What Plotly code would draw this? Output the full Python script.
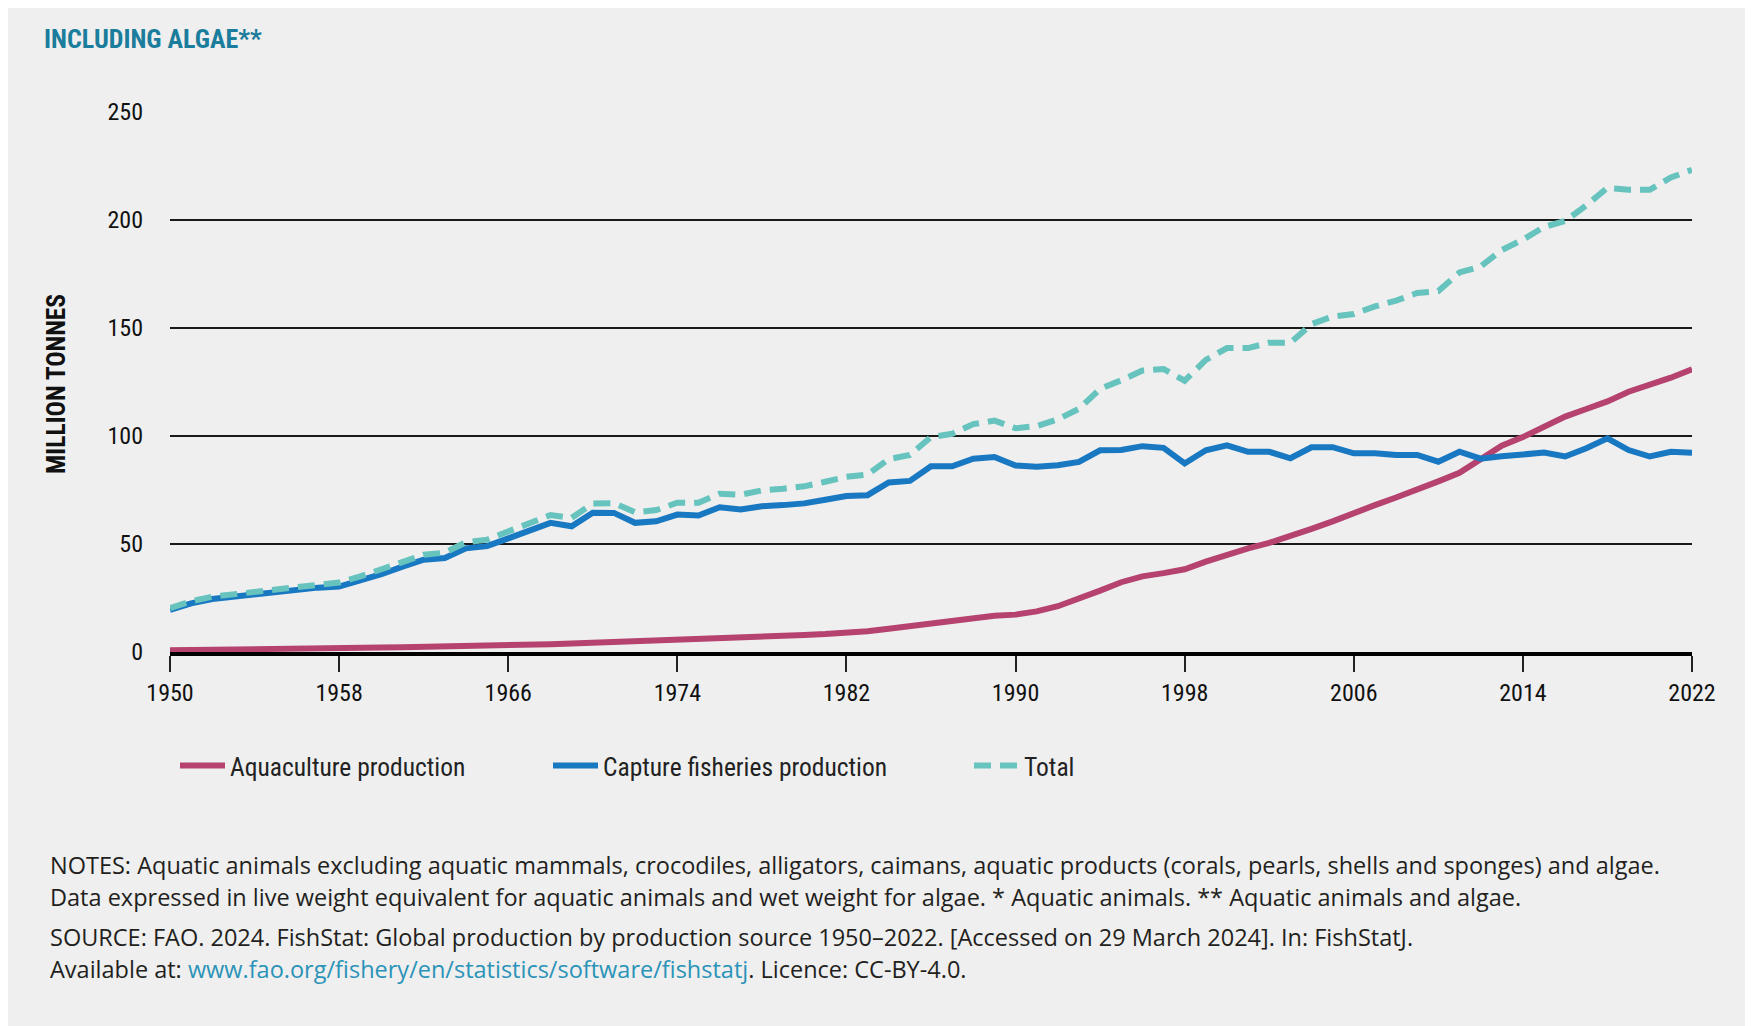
import plotly.graph_objects as go

years = list(range(1950, 2023))

aquaculture = [0.8, 1.0, 1.1, 1.2, 1.3, 1.4, 1.5, 1.7, 1.9, 2.0,
               2.1, 2.2, 2.3, 2.5, 2.8, 3.0, 3.2, 3.4, 3.6, 3.9,
               4.2, 4.5, 4.9, 5.2, 5.5, 5.9, 6.3, 6.8, 7.3, 7.6,
               7.9, 8.3, 8.9, 9.6, 10.8, 12.0, 13.5, 15.0, 16.0, 16.8,
               17.3, 18.8, 21.2, 24.6, 28.4, 32.3, 35.0, 36.5, 38.3, 41.8,
               45.0, 48.0, 50.5, 53.5, 57.0, 60.5, 64.5, 68.0, 71.5, 75.0,
               79.0, 83.0, 89.0, 95.5, 99.5, 104.5, 109.0, 112.5, 116.0, 120.5,
               123.5, 127.0, 130.9]

capture = [19.5, 22.5, 24.5, 25.5, 26.5, 27.5, 29.0, 29.8, 30.3, 33.0,
           36.0, 39.5, 42.7, 43.5, 48.0, 49.0, 52.5, 56.0, 59.8, 58.2,
           64.5, 64.4, 59.8, 60.5, 63.6, 63.2, 67.0, 66.0, 67.5, 68.0,
           68.8, 70.5, 72.2, 72.6, 78.5, 79.2, 86.0, 86.0, 89.5, 90.3,
           86.3, 85.8, 86.5, 88.0, 93.4, 93.5, 95.3, 94.5, 87.3, 93.4,
           95.7, 92.7, 92.7, 89.7, 94.8, 94.8, 92.0, 92.0, 91.2, 91.2,
           88.1, 92.7, 89.5, 90.6, 91.4, 92.3, 90.5, 94.3, 98.9, 93.5,
           90.5, 92.7, 92.3]

total = [20.3, 23.5, 25.6, 26.7, 27.8, 28.9, 30.5, 31.5, 32.2, 35.0,
         38.1, 41.7, 45.0, 46.0, 50.8, 52.0, 55.7, 59.4, 63.4, 62.1,
         68.7, 68.9, 64.7, 65.7, 69.1, 69.1, 73.3, 72.8, 74.8, 75.6,
         76.7, 78.8, 81.1, 82.2, 89.3, 91.2, 99.5, 101.0, 105.5, 107.1,
         103.6, 104.6, 107.7, 112.6, 121.8, 125.8, 130.3, 131.0, 125.6, 135.2,
         140.7, 140.7, 143.2, 143.2, 151.8, 155.3, 156.5, 160.0, 162.7, 166.2,
         167.1, 175.7, 178.5, 186.1, 190.9, 196.8, 199.5, 206.8, 214.9, 214.0,
         214.0, 219.7, 223.2]

x_ticks = [1950, 1958, 1966, 1974, 1982, 1990, 1998, 2006, 2014, 2022]
y_ticks = [0, 50, 100, 150, 200, 250]

series_names = ["Aquaculture production", "Capture fisheries production", "Total"]

# page body has an 8px margin: figure is placed at (8, 8)
OFF = 8
W, H = 1753 - OFF, 1026 - OFF
L, R, T, B = 170, 1692, 112, 652          # plot area in page pixels
pw, ph = R - L, B - T


def px(x):
    return (x - L) / pw


def py(y):
    return (B - y) / ph


COND = "Liberation Sans Narrow, Roboto Condensed, DejaVu Sans Condensed, Arial Narrow, sans-serif"
BODY = "Open Sans, Roboto, Liberation Sans, sans-serif"

fig = go.Figure()
fig.add_trace(go.Scatter(x=years, y=aquaculture, mode="lines", name=series_names[0],
                         line=dict(color="#b5426f", width=6), legend="legend"))
fig.add_trace(go.Scatter(x=years, y=capture, mode="lines", name=series_names[1],
                         line=dict(color="#1878c2", width=6), legend="legend2"))
fig.add_trace(go.Scatter(x=years, y=total, mode="lines", name=series_names[2],
                         line=dict(color="#66c3bd", width=6, dash="17px,9px"), legend="legend3"))

TXT_OFF = 55  # legend x to text start (itemwidth 45 + gaps)
leg_common = dict(orientation="h", xanchor="left", yanchor="middle",
                  y=py(766), bgcolor="rgba(0,0,0,0)", itemwidth=45,
                  font=dict(family=COND, size=25.5, color="#222"))
fig.update_layout(
    legend=dict(x=px(230 - TXT_OFF), **leg_common),
    legend2=dict(x=px(603 - TXT_OFF), **leg_common),
    legend3=dict(x=px(1024 - TXT_OFF), **leg_common),
)

fig.update_layout(
    width=W, height=H,
    margin=dict(l=L - OFF, r=1753 - R, t=T - OFF, b=1026 - B),
    paper_bgcolor="#efefef",
    plot_bgcolor="rgba(0,0,0,0)",
    showlegend=True,
    xaxis=dict(range=[1950, 2022], tickmode="array", tickvals=x_ticks,
               ticktext=[str(v) for v in x_ticks], showgrid=False, zeroline=False,
               showline=True, linecolor="#000", linewidth=4,
               ticks="outside", ticklen=16, tickwidth=2, tickcolor="#222",
               tickfont=dict(family=COND, size=24, color="#111")),
    yaxis=dict(range=[0, 250], tickmode="array", tickvals=y_ticks,
               ticktext=[str(v) for v in y_ticks], showgrid=True, gridcolor="#1a1a1a",
               gridwidth=1.6, zeroline=False, showline=False, ticks="",
               ticklabelstandoff=26,
               tickfont=dict(family=COND, size=24, color="#111")),
)

ann = []
ann.append(dict(text="<b>INCLUDING ALGAE**</b>", x=px(42), y=py(39), xanchor="left", yanchor="middle",
                font=dict(family=COND, size=26, color="#1b7d9c")))
ann.append(dict(text="<b>MILLION TONNES</b>", x=px(56), y=py(384), xanchor="center", yanchor="middle",
                textangle=-90, font=dict(family=COND, size=25.5, color="#111")))
notes = [
    ("NOTES: Aquatic animals excluding aquatic mammals, crocodiles, alligators, caimans, aquatic products (corals, pearls, shells and sponges) and algae.", 865),
    ("Data expressed in live weight equivalent for aquatic animals and wet weight for algae. * Aquatic animals. ** Aquatic animals and algae.", 897),
    ("SOURCE: FAO. 2024. FishStat: Global production by production source 1950–2022. [Accessed on 29 March 2024]. In: FishStatJ.", 937),
    ("Available at: <span style='color:#2a93b8'>www.fao.org/fishery/en/statistics/software/fishstatj</span>. Licence: CC-BY-4.0.", 969),
]
for t, yy in notes:
    ann.append(dict(text=t, x=px(48), y=py(yy), xanchor="left", yanchor="middle",
                    font=dict(family=BODY, size=23.5, color="#231f20")))
for a in ann:
    a.update(xref="paper", yref="paper", showarrow=False)
fig.update_layout(annotations=ann)

fig.write_html("out.html")
